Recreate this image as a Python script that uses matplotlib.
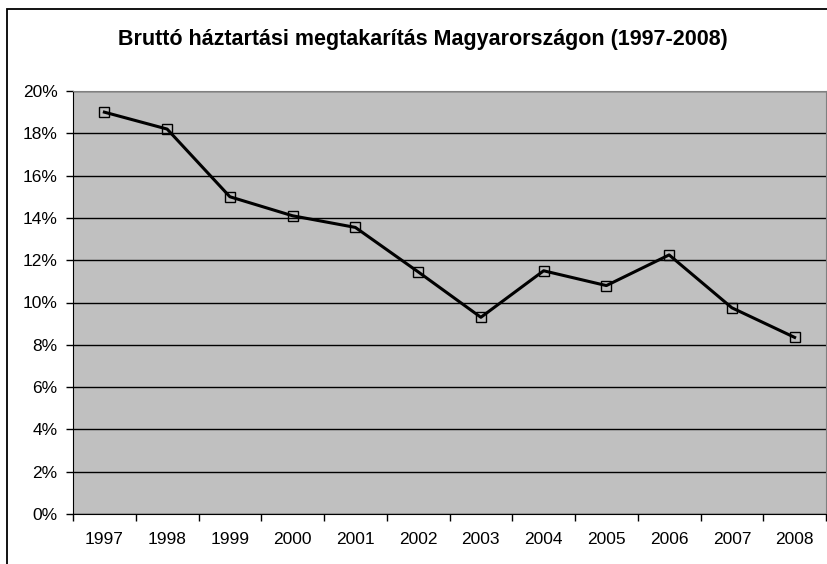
import numpy as np
import matplotlib.pyplot as plt
from matplotlib.patches import Rectangle
from matplotlib.ticker import FuncFormatter, MultipleLocator

years = ["1997", "1998", "1999", "2000", "2001", "2002",
         "2003", "2004", "2005", "2006", "2007", "2008"]
savings = [19.0, 18.2, 15.0, 14.1, 13.55, 11.45, 9.3, 11.5, 10.8, 12.25, 9.75, 8.35]

plt.rcParams['font.family'] = ['Liberation Sans', 'DejaVu Sans']

fig = plt.figure(figsize=(8.27, 5.64), dpi=100)
# outer chart border (right and bottom edges are cut off in the original)
fig.add_artist(Rectangle((7 / 827, -0.05), 1.0, (564 - 8.5) / 564 + 0.05,
                         transform=fig.transFigure, fill=False,
                         edgecolor='black', linewidth=1.3))

ax = fig.add_axes([73 / 827, (564 - 514) / 564, (826 - 73) / 827, (514 - 91) / 564])
ax.set_facecolor('#c0c0c0')

x = np.arange(len(years))
ax.plot(x, savings, color='black', linewidth=2.2, marker='s', markersize=6.5,
        markerfacecolor='none', markeredgecolor='black', markeredgewidth=1)

ax.set_xlim(-0.5, len(years) - 0.5)
ax.set_ylim(0, 20)
ax.yaxis.set_major_locator(MultipleLocator(2))
ax.yaxis.set_major_formatter(FuncFormatter(lambda v, p: f"{v:.0f}%"))
ax.yaxis.grid(True, color='black', linewidth=1)
ax.set_axisbelow(True)

ax.set_xticks(x)
ax.set_xticklabels(years)
ax.set_xticks(np.arange(-0.5, len(years)), minor=True)
ax.tick_params(axis='x', which='major', length=0, pad=13, labelsize=12.5)
ax.tick_params(axis='x', which='minor', length=5, width=1, direction='out')
ax.tick_params(axis='y', length=5, width=1, direction='out', labelsize=12.5, pad=6)

for side in ['top', 'right']:
    ax.spines[side].set_color('#808080')
for side in ['left', 'bottom']:
    ax.spines[side].set_color('black')

fig.text(423 / 827, 1 - 40 / 564, "Bruttó háztartási megtakarítás Magyarországon (1997-2008)",
         ha='center', va='center', fontsize=15.5, fontweight='bold')

fig.savefig("out.png", dpi=100)
